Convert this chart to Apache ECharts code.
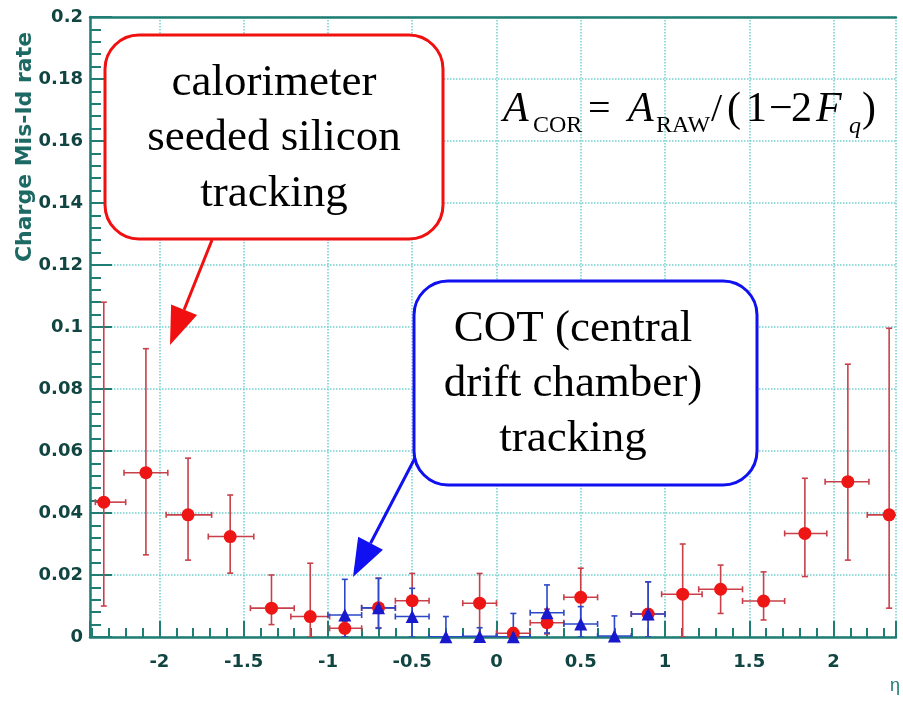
<!DOCTYPE html>
<html>
<head>
<meta charset="UTF-8">
<title>Charge Mis-Id rate</title>
<script src="https://cdn.jsdelivr.net/npm/echarts@6/dist/echarts.min.js"></script>
<style>
    html, body { margin: 0; padding: 0; background: #fff; }
    #chart { width: 903px; height: 703px; }
</style>
</head>
<body>
<div id="chart"></div>
<script>
// calorimeter seeded silicon tracking (red circles)
const redEta   = [-2.33, -2.08, -1.83, -1.58, -1.335, -1.105, -0.9, -0.7, -0.5, -0.1, 0.1, 0.3, 0.5, 0.9, 1.105, 1.33, 1.585, 1.83, 2.085, 2.33];
const redRate  = [0.0435, 0.053, 0.0394, 0.0324, 0.0093, 0.0066, 0.0028, 0.0094, 0.0117, 0.0109, 0.0012, 0.0046, 0.0128, 0.0074, 0.0138, 0.0154, 0.0116, 0.0334, 0.0501, 0.0394];
const redLow   = [0.010, 0.0265, 0.0248, 0.0206, 0.004, 0.0, 0.0, 0.003, 0.005, 0.0, 0.0, 0.001, 0.004, 0.0, 0.0, 0.0076, 0.0055, 0.0195, 0.0248, 0.0093];
const redHigh  = [0.108, 0.093, 0.0577, 0.0458, 0.020, 0.0238, 0.005, 0.019, 0.0205, 0.0205, 0.003, 0.009, 0.0222, 0.0178, 0.030, 0.0232, 0.021, 0.0512, 0.088, 0.0996];
const redBinLo = [-2.38, -2.21, -1.96, -1.71, -1.46, -1.22, -0.99, -0.8, -0.6, -0.2, 0.0, 0.2, 0.4, 0.8, 0.98, 1.2, 1.46, 1.71, 1.95, 2.2];
const redBinHi = [-2.2, -1.95, -1.69, -1.44, -1.2, -0.99, -0.8, -0.6, -0.4, 0.0, 0.2, 0.4, 0.6, 1.0, 1.22, 1.46, 1.71, 1.96, 2.21, 2.46];

// COT tracking (blue triangles)
const blueEta   = [-0.9, -0.7, -0.5, -0.3, -0.1, 0.1, 0.3, 0.5, 0.7, 0.9];
const blueRate  = [0.0071, 0.0094, 0.0066, 0.0001, 0.0002, 0.0001, 0.0078, 0.0042, 0.0003, 0.0074];
const blueLow   = [0.0, 0.0028, 0.0, 0.0, 0.0, 0.0, 0.0013, 0.0, 0.0, 0.0];
const blueHigh  = [0.0186, 0.0189, 0.0157, 0.0066, 0.003, 0.0076, 0.0168, 0.0098, 0.0068, 0.0178];
const blueBinLo = [-1.0, -0.8, -0.6, -0.4, -0.2, 0.0, 0.2, 0.4, 0.6, 0.8];
const blueBinHi = [-0.8, -0.6, -0.4, -0.2, 0.0, 0.2, 0.4, 0.6, 0.8, 1.0];

const xTickLabels = ['-2', '-1.5', '-1', '-0.5', '0', '0.5', '1', '1.5', '2'];
const yTickLabels = ['0', '0.02', '0.04', '0.06', '0.08', '0.1', '0.12', '0.14', '0.16', '0.18', '0.2'];

const axisColor = '#1f7d74';
const labelColor = '#114541';
const gridColor = '#72d0d0';

function rows(eta, rate, low, high, lo, hi) {
    return eta.map((x, i) => [x, rate[i], low[i], high[i], lo[i], hi[i]]);
}

function errorBars(data, color) {
    return {
        type: 'custom',
        clip: true,
        silent: true,
        z: 3,
        encode: { x: 0, y: 1 },
        data: data,
        renderItem: function (params, api) {
            const c = api.coord([api.value(0), api.value(1)]);
            const lo = api.coord([api.value(0), api.value(2)]);
            const hi = api.coord([api.value(0), api.value(3)]);
            const l = api.coord([api.value(4), api.value(1)]);
            const r = api.coord([api.value(5), api.value(1)]);
            const cap = 3;
            const style = { stroke: color, lineWidth: 1.6 };
            const seg = (x1, y1, x2, y2) => ({ type: 'line', shape: { x1, y1, x2, y2 }, style });
            return {
                type: 'group',
                children: [
                    seg(c[0], hi[1], c[0], lo[1]),
                    seg(c[0] - cap, hi[1], c[0] + cap, hi[1]),
                    seg(c[0] - cap, lo[1], c[0] + cap, lo[1]),
                    seg(l[0], c[1], r[0], c[1]),
                    seg(l[0], c[1] - cap, l[0], c[1] + cap),
                    seg(r[0], c[1] - cap, r[0], c[1] + cap)
                ]
            };
        }
    };
}

// arrow from (x1,y1) to tip (x2,y2)
function arrow(x1, y1, x2, y2, color) {
    const dx = x2 - x1, dy = y2 - y1;
    const len = Math.sqrt(dx * dx + dy * dy);
    const ux = dx / len, uy = dy / len;
    const hl = 38, hw = 14;
    const bx = x2 - ux * hl, by = y2 - uy * hl;
    return [
        { type: 'line', z: 20, shape: { x1: x1, y1: y1, x2: bx, y2: by }, style: { stroke: color, lineWidth: 3 } },
        { type: 'polygon', z: 20, shape: { points: [[x2, y2], [bx - uy * hw, by + ux * hw], [bx + uy * hw, by - ux * hw]] }, style: { fill: color } }
    ];
}

// y is the text baseline
function serif(x, y, text, size, opts) {
    opts = opts || {};
    return {
        type: 'text', z: 21, x: x, y: y - 0.305 * size,
        style: {
            text: text,
            font: (opts.italic ? 'italic ' : '') + size + 'px "Liberation Serif"',
            fill: '#000',
            align: opts.align || 'left',
            verticalAlign: 'middle'
        }
    };
}

const chart = echarts.init(document.getElementById('chart'));

const option = {
    backgroundColor: '#fff',
    animation: false,
    grid: { left: 90, right: 0, top: 17, bottom: 66 },
    xAxis: [{
        type: 'value',
        min: -2.4118,
        max: 2.3706,
        splitNumber: 10,
        name: 'η',
        nameLocation: 'end',
        nameGap: -6,
        nameTextStyle: { color: axisColor, fontSize: 18, align: 'left', verticalAlign: 'top', padding: [40, 0, 0, 0] },
        axisLine: { onZero: false, lineStyle: { color: axisColor, width: 2.5 } },
        axisTick: { inside: true, length: 16, lineStyle: { color: axisColor, width: 2 } },
        minorTick: { show: true, splitNumber: 5, length: 9, lineStyle: { color: axisColor, width: 2 } },
        splitLine: { show: true, lineStyle: { color: gridColor, type: 'dotted', width: 1.5 } },
        axisLabel: {
            margin: 16,
            color: labelColor,
            fontFamily: 'DejaVu Sans',
            fontWeight: 'bold',
            fontSize: 18,
            formatter: function (v) {
                const s = String(Math.round(v * 10) / 10);
                return xTickLabels.indexOf(s) >= 0 ? s : '';
            }
        }
    }, {
        type: 'value',
        position: 'top',
        min: -2.4118,
        max: 2.3706,
        axisLine: { show: true, onZero: false, lineStyle: { color: axisColor, width: 2.5 } },
        axisTick: { show: false },
        axisLabel: { show: false },
        splitLine: { show: false }
    }],
    yAxis: {
        type: 'value',
        min: 0,
        max: 0.2,
        interval: 0.02,
        axisLine: { show: true, onZero: false, lineStyle: { color: axisColor, width: 2.5 } },
        axisTick: { inside: true, length: 22, lineStyle: { color: axisColor, width: 2 } },
        minorTick: { show: true, splitNumber: 5, length: 11, lineStyle: { color: axisColor, width: 2 } },
        splitLine: { show: true, lineStyle: { color: gridColor, type: 'dotted', width: 1.5 } },
        axisLabel: {
            margin: 7,
            color: labelColor,
            fontFamily: 'DejaVu Sans',
            fontWeight: 'bold',
            fontSize: 18,
            formatter: function (v) { return yTickLabels[Math.round(v / 0.02)]; }
        }
    },
    graphic: [
        {
            type: 'text', x: 25, y: 147, rotation: Math.PI / 2, z: 21,
            style: { text: 'Charge Mis-Id rate', font: 'bold 22px "DejaVu Sans"', fill: '#1d6964', align: 'center', verticalAlign: 'middle' }
        },
        // red callout
        { type: 'rect', z: 19, shape: { x: 105, y: 35, width: 338, height: 204, r: 34 }, style: { fill: '#fff', stroke: '#f01010', lineWidth: 3 } },
        serif(274, 97, 'calorimeter', 45, { align: 'center' }),
        serif(274, 152, 'seeded silicon', 45, { align: 'center' }),
        serif(274, 208, 'tracking', 45, { align: 'center' }),
        ...arrow(212, 240, 170, 345, '#f01010'),
        // blue callout
        { type: 'rect', z: 19, shape: { x: 414, y: 281, width: 343, height: 204, r: 34 }, style: { fill: '#fff', stroke: '#1010f0', lineWidth: 3 } },
        serif(573, 343, 'COT (central', 45, { align: 'center' }),
        serif(573, 398, 'drift chamber)', 45, { align: 'center' }),
        serif(573, 453, 'tracking', 45, { align: 'center' }),
        ...arrow(415, 458, 353, 577, '#1010f0'),
        // correction formula
        serif(503, 123, 'A', 42, { italic: true }),
        serif(533, 133, 'COR', 24),
        serif(588, 123, '=', 40),
        serif(628, 123, 'A', 42, { italic: true }),
        serif(656, 133, 'RAW', 24),
        serif(711, 123, '/', 40),
        serif(727, 123, '(', 42),
        serif(746, 123, '1', 42),
        serif(769, 123, '−', 42),
        serif(791, 123, '2', 42),
        serif(816, 123, 'F', 42, { italic: true }),
        serif(849, 134, 'q', 24, { italic: true }),
        serif(862, 123, ')', 42)
    ],
    series: [
        errorBars(rows(redEta, redRate, redLow, redHigh, redBinLo, redBinHi), '#c8404a'),
        {
            type: 'scatter',
            symbol: 'circle',
            symbolSize: 13,
            z: 4,
            itemStyle: { color: '#ee1515', opacity: 1 },
            data: redEta.map((x, i) => [x, redRate[i]])
        },
        errorBars(rows(blueEta, blueRate, blueLow, blueHigh, blueBinLo, blueBinHi), '#2a48c8'),
        {
            type: 'scatter',
            symbol: 'triangle',
            symbolSize: 13,
            z: 5,
            itemStyle: { color: '#1818cc', opacity: 1 },
            data: blueEta.map((x, i) => [x, blueRate[i]])
        }
    ]
};

chart.setOption(option);
</script>
</body>
</html>
